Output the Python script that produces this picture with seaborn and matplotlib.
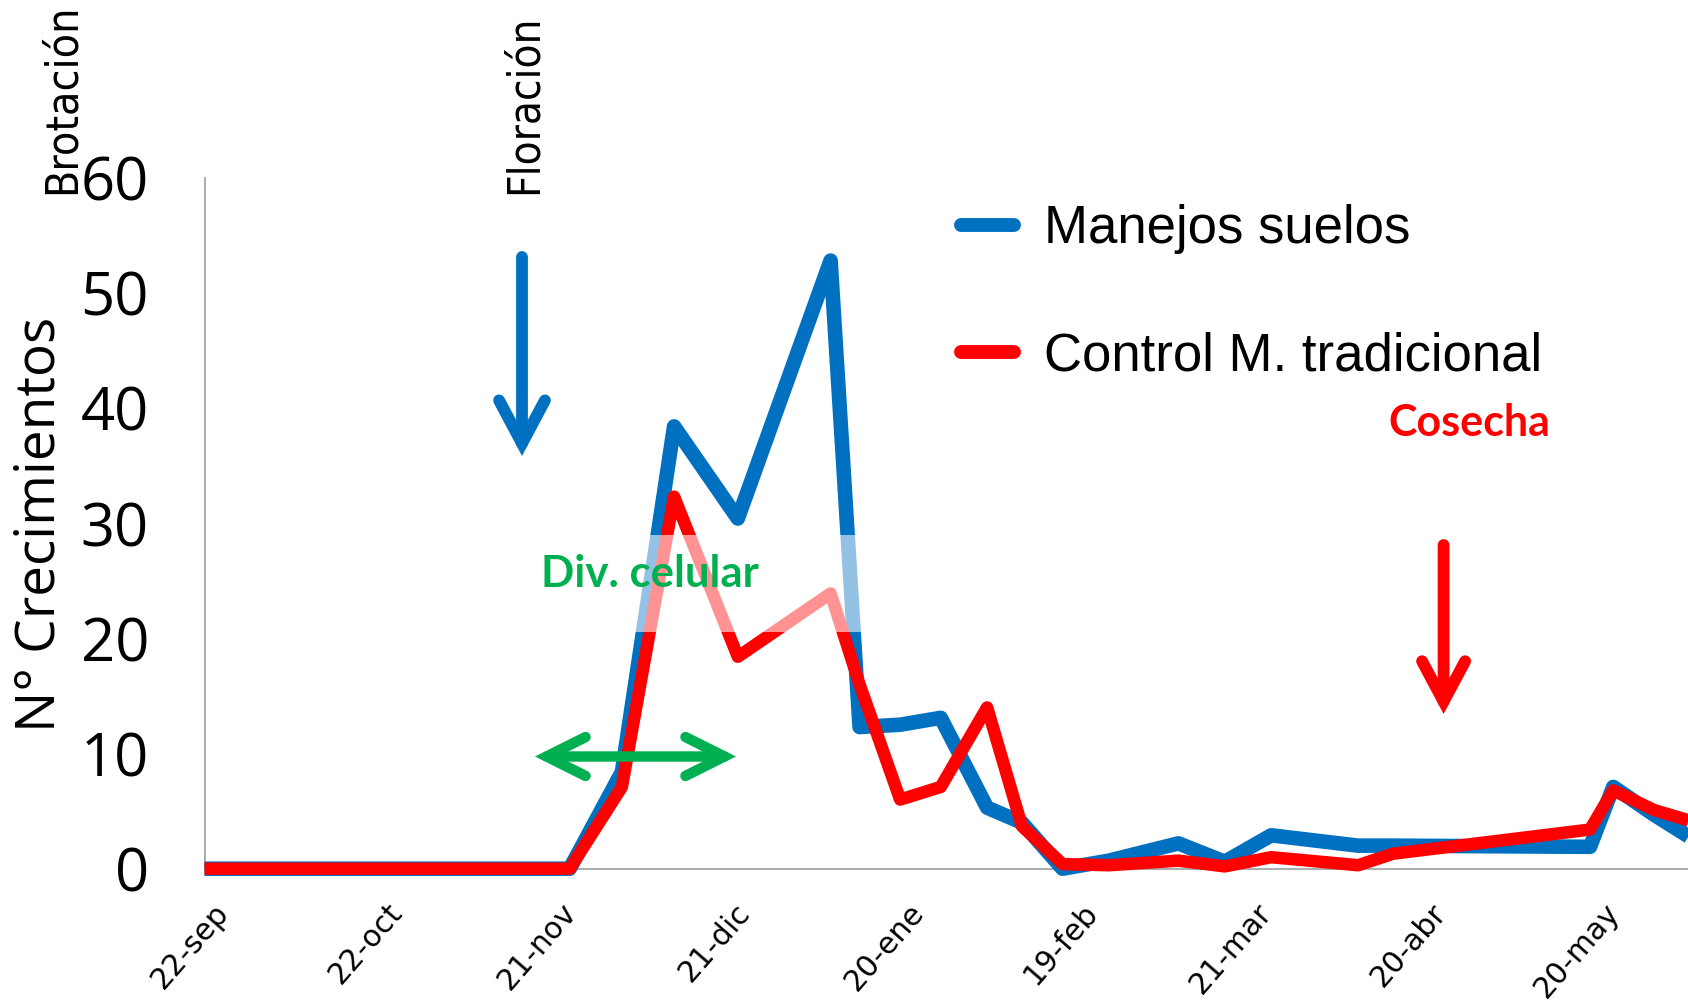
import numpy as np
import pandas as pd
import matplotlib
matplotlib.use("Agg")
import matplotlib.pyplot as plt
import matplotlib.transforms as mtransforms
import seaborn as sns
from matplotlib.patches import Rectangle, FancyArrowPatch

# ---------------- data ----------------
fechas = ['2013-09-22', '2013-10-13', '2013-11-03', '2013-11-24', '2013-12-03',
          '2013-12-12', '2013-12-23', '2014-01-08', '2014-01-13', '2014-01-20',
          '2014-01-27', '2014-02-04', '2014-02-10', '2014-02-17', '2014-02-25',
          '2014-03-09', '2014-03-17', '2014-03-25', '2014-04-09', '2014-04-15',
          '2014-05-19', '2014-05-23', '2014-05-30', '2014-06-05']
manejos_suelos = [0, 0, 0, 0, 8.4,
                  38.4, 30.4, 52.8, 12.3, 12.5,
                  13.1, 5.3, 4.0, 0.0, 0.7,
                  2.2, 0.6, 2.9, 2.0, 2.0,
                  1.9, 7.1, 4.7, 2.8]
control_tradicional = [0, 0, 0, 0, 7.1,
                       32.3, 18.4, 23.9, 16.0, 6.0,
                       7.1, 14.0, 3.7, 0.4, 0.3,
                       0.7, 0.2, 1.0, 0.3, 1.3,
                       3.4, 6.8, 5.1, 4.2]
serie_labels = ['Manejos suelos', 'Control M. tradicional']
tick_fechas = ['2013-09-22', '2013-10-22', '2013-11-21', '2013-12-21', '2014-01-20',
               '2014-02-19', '2014-03-21', '2014-04-20', '2014-05-20']
tick_labels = ['22-sep', '22-oct', '21-nov', '21-dic', '20-ene',
               '19-feb', '21-mar', '20-abr', '20-may']
y_ticks = [0, 10, 20, 30, 40, 50, 60]

df = pd.DataFrame({
    'fecha': pd.to_datetime(fechas * 2),
    'valor': manejos_suelos + control_tradicional,
    'serie': [serie_labels[0]] * len(fechas) + [serie_labels[1]] * len(fechas),
})

# ---------------- figure ----------------
W, H = 1688, 1005
sns.set_theme(style='white')
plt.rcParams['font.family'] = ['DejaVu Sans']
plt.rcParams['text.color'] = 'black'

fig = plt.figure(figsize=(W / 100, H / 100), dpi=100)
fig.patch.set_facecolor('white')

def fx(px):
    return px / W

def fy(py):
    return 1 - py / H

ax_left, ax_right = 204.5, 1688
ax_top, ax_bot = 177.6, 868.7
ax = fig.add_axes([fx(ax_left), fy(ax_bot), (ax_right - ax_left) / W, (ax_bot - ax_top) / H])
ax.set_facecolor('white')

BLUE = '#0070C0'
RED = '#FF0000'
GREEN = '#00B050'

for name, col, lw in [(serie_labels[0], BLUE, 10.5), (serie_labels[1], RED, 9.0)]:
    sns.lineplot(data=df[df['serie'] == name], x='fecha', y='valor', color=col,
                 linewidth=lw, ax=ax, label=name, legend=False)

for ln in ax.get_lines():
    ln.set_solid_joinstyle('round')
    ln.set_solid_capstyle('butt')
    ln.set_clip_on(False)

start = pd.Timestamp(tick_fechas[0])
ax.set_xlim(start, start + pd.Timedelta(days=255.9))
ax.set_ylim(0, 60)

ax.set_xticks(pd.to_datetime(tick_fechas))
ax.set_yticks(y_ticks)
ax.tick_params(axis='x', length=0, pad=28)
ax.tick_params(axis='y', length=20, width=1.3, color='#A6A6A6', pad=20, direction='out')
ax.set_xticklabels(tick_labels, rotation=49, ha='right', va='center',
                   rotation_mode='anchor', fontsize=21.5, color='black')
ax.set_yticklabels([str(v) for v in y_ticks], fontsize=43,
                   family=['Open Sans'], color='black')
ax.set_xlabel('')
ax.set_ylabel('')

for s in ['top', 'right']:
    ax.spines[s].set_visible(False)
for s in ['left', 'bottom']:
    ax.spines[s].set_color('#A6A6A6')
    ax.spines[s].set_linewidth(1.3)
    ax.spines[s].set_zorder(0.5)

# shift x tick labels to the right (anchor at end of text, like the original)
shift = mtransforms.ScaledTranslation(0.19, 0, fig.dpi_scale_trans)
for tick in ax.xaxis.get_major_ticks():
    tick.label1.set_transform(tick.label1.get_transform() + shift)

# legend
leg = ax.legend(loc='upper left', bbox_to_anchor=(fx(961), fy(204)),
                bbox_transform=fig.transFigure, frameon=False, borderpad=0,
                borderaxespad=0, handlelength=1.0, handletextpad=0.57,
                labelspacing=1.46, labelcolor='black',
                prop={'family': 'Liberation Sans', 'size': 38})
for h in leg.get_lines():
    h.set_solid_capstyle('round')
    h.set_linewidth(10)

# translucent box + text
box = Rectangle((fx(540), fy(632)), fx(865) - fx(540), fy(535) - fy(632),
                transform=fig.transFigure, facecolor='white', alpha=0.58,
                edgecolor='none', zorder=5)
fig.add_artist(box)
fig.text(fx(541), fy(574), 'Div. celular', color=GREEN, fontsize=31.5,
         fontweight='bold', family='Lato', ha='left', va='center', zorder=6)
fig.text(fx(1388), fy(423), 'Cosecha', color=RED, fontsize=31,
         fontweight='bold', family='Lato', ha='left', va='center', zorder=6)

# rotated labels
fig.text(fx(62), fy(194), 'Brotación', rotation=90, ha='center', va='bottom',
         fontsize=32, fontstretch='condensed', family='DejaVu Sans', color='black')
fig.text(fx(524), fy(194), 'Floración', rotation=90, ha='center', va='bottom',
         fontsize=31.5, fontstretch='condensed', family='DejaVu Sans', color='black')
fig.text(fx(40), fy(524), 'N° Crecimientos', rotation=90, ha='center', va='center',
         fontsize=39.5, family='Open Sans', color='black')

# arrows
def arrow(p0, p1, color, lw, hl, hw, style='->'):
    a = FancyArrowPatch((fx(p0[0]), fy(p0[1])), (fx(p1[0]), fy(p1[1])),
                        transform=fig.transFigure,
                        arrowstyle=f'{style},head_length={hl},head_width={hw}',
                        mutation_scale=1, lw=lw, color=color,
                        shrinkA=0, shrinkB=0,
                        capstyle='round', joinstyle='miter', zorder=7)
    fig.add_artist(a)

arrow((522, 257), (522, 456), BLUE, 8.5, 31, 16.5)
arrow((1443.6, 545), (1443.6, 714), RED, 8.5, 29, 15.5)
arrow((535, 756.5), (736, 756.5), GREEN, 7.5, 28, 14, style='<->')

fig.savefig('out.png', dpi=100, facecolor='white')
